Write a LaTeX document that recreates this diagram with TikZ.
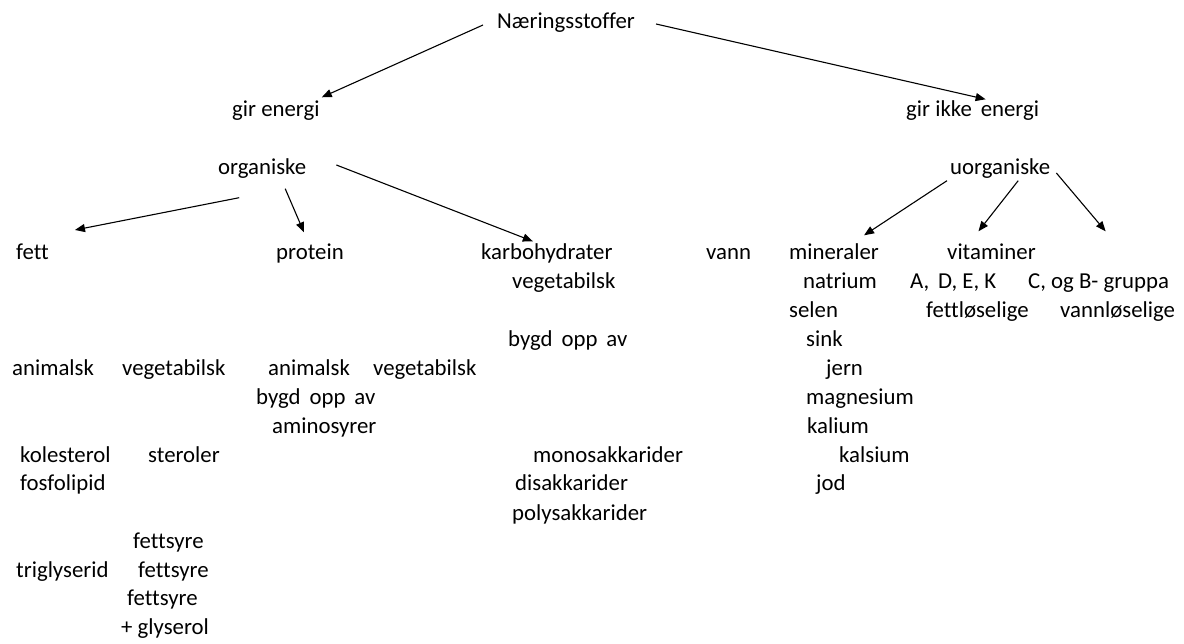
\documentclass[tikz,border=0pt]{standalone}
\usepackage{fontspec}
\setmainfont{Carlito}[Ligatures=NoCommon]
\usetikzlibrary{arrows.meta,calc}

\tikzset{
  lbl/.style={anchor=west, inner sep=0pt, font=\fontsize{22.8}{27}\selectfont,
              text height=0.6em, text depth=0.1em, yshift=-4pt},
  arr/.style={-{Triangle[length=10pt,width=8pt]}, line width=1.1pt}
}

\begin{document}
\begin{tikzpicture}[x=1pt,y=-1pt]
            \useasboundingbox (0,0) rectangle (1184,644);
            % top levels
            \node[lbl] (ner) at (497, 22) {Næringsstoffer};
            \node[lbl] (girE) at (232, 110) {gir energi};
            \node[lbl] (girIkke) at (906, 110) {gir ikke\, energi};
            \node[lbl] (org) at (218, 168) {organiske};
            \node[lbl] (uorg) at (950, 168) {uorganiske};
            % row of groups
            \node[lbl] (fett) at (16, 253) {fett};
            \node[lbl] (prot) at (276, 253) {protein};
            \node[lbl] (karb) at (481, 253) {karbohydrater};
            \node[lbl] (vann) at (706, 253) {vann};
            \node[lbl] (min) at (789, 253) {mineraler};
            \node[lbl] (vit) at (947, 253) {vitaminer};
            % karbohydrater
            \node[lbl] (kveg) at (512, 282) {vegetabilsk};
            \node[lbl] (kbygd) at (508, 340) {bygd\, opp\, av};
            \node[lbl] (mono) at (533, 456) {monosakkarider};
            \node[lbl] (di) at (515, 484) {disakkarider};
            \node[lbl] (poly) at (512, 514) {polysakkarider};
            % mineraler
            \node[lbl] (natr) at (803, 282) {natrium};
            \node[lbl] (selen) at (789, 311) {selen};
            \node[lbl] (sink) at (806, 340) {sink};
            \node[lbl] (jern) at (826, 369) {jern};
            \node[lbl] (magn) at (806, 398) {magnesium};
            \node[lbl] (kal) at (807, 427) {kalium};
            \node[lbl] (kals) at (839, 456) {kalsium};
            \node[lbl] (jod) at (816, 484) {jod};
            % vitaminer
            \node[lbl] (adek) at (910, 282) {A,\, D, E, K};
            \node[lbl] (cog) at (1028, 282) {C, og B- gruppa};
            \node[lbl] (fettl) at (926, 311) {fettløselige};
            \node[lbl] (vannl) at (1060, 311) {vannløselige};
            % fett
            \node[lbl] (fanim) at (12, 369) {animalsk};
            \node[lbl] (fveg) at (122, 369) {vegetabilsk};
            \node[lbl] (kol) at (20, 456) {kolesterol};
            \node[lbl] (ster) at (148, 456) {steroler};
            \node[lbl] (fosf) at (20, 484) {fosfolipid};
            \node[lbl] (fs1) at (133, 542) {fettsyre};
            \node[lbl] (trig) at (16, 571) {triglyserid};
            \node[lbl] (fs2) at (138, 571) {fettsyre};
            \node[lbl] (fs3) at (127, 599) {fettsyre};
            \node[lbl] (glys) at (121, 628) {+ glyserol};
            % protein
            \node[lbl] (panim) at (268, 369) {animalsk};
            \node[lbl] (pveg) at (373, 369) {vegetabilsk};
            \node[lbl] (pbygd) at (256, 398) {bygd\, opp\, av};
            \node[lbl] (amino) at (272, 427) {aminosyrer};

            \draw[arr] ([shift={(-14,-1)}]ner.west) -- ([shift={(2,-13)}]girE.north east);
            \draw[arr] ([shift={(21,-2)}]ner.east) -- ([shift={(13,-11)}]girIkke.north);
            \draw[arr] ([shift={(-23,22)}]org.south) -- ([shift={(26,-27)}]fett.east);
            \draw[arr] ([shift={(23,13)}]org.south) -- ([shift={(-6,-21)}]prot.north);
            \draw[arr] ([shift={(30,-7)}]org.east) -- ([shift={(-14,-12)}]karb.north);
            \draw[arr] ([shift={(-3,5)}]uorg.south west) -- ([shift={(30,-18)}]min.north);
            \draw[arr] ([shift={(18,5)}]uorg.south) -- ([shift={(-13,-22)}]vit.north);
            \draw[arr] ([shift={(6,1)}]uorg.east) -- ([shift={(7,-51)}]cog.north);
        \end{tikzpicture}
\end{document}
